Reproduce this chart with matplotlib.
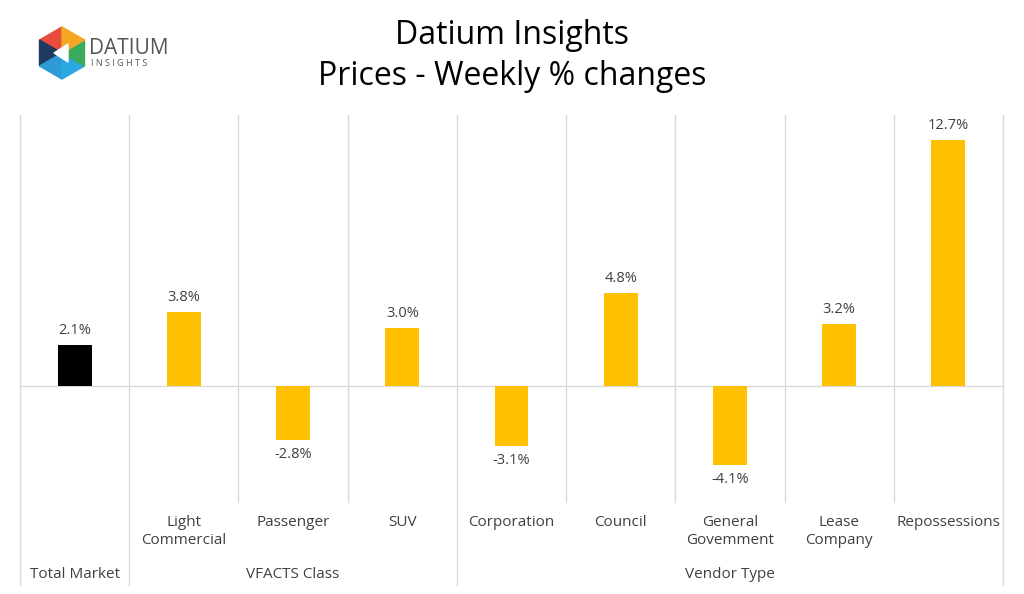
import numpy as np
import matplotlib
matplotlib.use('Agg')
import matplotlib.pyplot as plt
from matplotlib.patches import Polygon

# --- Data ---
categories = ['Total Market', 'Light\nCommercial', 'Passenger', 'SUV', 'Corporation',
              'Council', 'General\nGovemment', 'Lease\nCompany', 'Repossessions']
changes = [2.1, 3.8, -2.8, 3.0, -3.1, 4.8, -4.1, 3.2, 12.7]
groups = ['VFACTS Class', 'Vendor Type']
group_spans = [(1, 4), (4, 9)]  # category index ranges (start, end)

TITLE = 'Datium Insights\nPrices - Weekly % changes'
GOLD = '#FFC000'
GRID = '#D9D9D9'
TEXT = '#404040'

plt.rcParams['font.family'] = ['Open Sans', 'DejaVu Sans']

fig = plt.figure(figsize=(10.24, 5.94), dpi=100)
W, H = 1024, 594
left, right, top, bottom = 20, 1003, 115, 502
ax = fig.add_axes([left / W, 1 - bottom / H, (right - left) / W, (bottom - top) / H])

x = np.arange(len(categories)) + 0.5
colors = ['black'] + [GOLD] * (len(categories) - 1)
ax.bar(x, changes, width=0.31, color=colors, zorder=3)

ax.set_xlim(0, len(categories))
ax.set_ylim(-6, 14)
ax.axhline(0, color=GRID, lw=1, zorder=1)
for s in ax.spines.values():
    s.set_visible(False)
ax.set_xticks([])
ax.set_yticks([])

# value labels
for xi, v in zip(x, changes):
    if v >= 0:
        ax.annotate(f'{v:.1f}%', (xi, v), xytext=(0, 5), textcoords='offset points',
                    ha='center', va='bottom', fontsize=10.5, color=TEXT)
    else:
        ax.annotate(f'{v:.1f}%', (xi, v), xytext=(0, -5), textcoords='offset points',
                    ha='center', va='top', fontsize=10.5, color=TEXT)

# vertical separators
trans = ax.get_xaxis_transform()
deep = -(585 - bottom) / (bottom - top)
group_edges = {0, 1, 4, 9}
for b in range(len(categories) + 1):
    y0 = deep if b in group_edges else 0
    ax.plot([b, b], [y0, 1], transform=trans, color=GRID, lw=1, clip_on=False, zorder=1)

# category labels
row1 = -(515 - bottom) / (bottom - top)
row2 = -(574 - bottom) / (bottom - top)
for i, lab in enumerate(categories):
    if i == 0:
        ax.text(x[i], row2, lab, transform=trans, ha='center', va='center',
                fontsize=11, color=TEXT)
    else:
        ax.text(x[i], row1, lab, transform=trans, ha='center', va='top',
                fontsize=11, color=TEXT, linespacing=1.3)
for g, (a, b) in zip(groups, group_spans):
    ax.text((a + b) / 2, row2, g, transform=trans, ha='center', va='center',
            fontsize=11, color=TEXT)

# title
fig.text(0.5, 1 - 56 / H, TITLE, ha='center', va='center', fontsize=23,
         color='black', linespacing=1.3)

# logo
cx, cy, r = 62 / W, 1 - 53 / H, 26
angles = np.deg2rad(np.arange(90, 450, 60))
px = cx + r * np.cos(angles) / W
py = cy + r * np.sin(angles) / H
logo_cols = ['#E94B3C', '#1F3A5F', '#2E9BD6', '#29A9E0', '#3BAA5C', '#F5A623']
for k in range(6):
    tri = Polygon([[cx, cy], [px[k], py[k]], [px[(k + 1) % 6], py[(k + 1) % 6]]],
                  closed=True, transform=fig.transFigure, color=logo_cols[k])
    fig.patches.append(tri)
fig.patches.append(Polygon([[cx - 8 / W, cy], [cx + 6 / W, cy + 9 / H], [cx + 6 / W, cy - 9 / H]],
                           closed=True, transform=fig.transFigure, color='white'))
fig.text(89 / W, 1 - 48 / H, 'DATIUM', fontsize=15, color='#555555', va='center')
fig.text(91 / W, 1 - 64 / H, 'I N S I G H T S', fontsize=6.5, color='#555555', va='center')

fig.savefig('out.png', dpi=100)
